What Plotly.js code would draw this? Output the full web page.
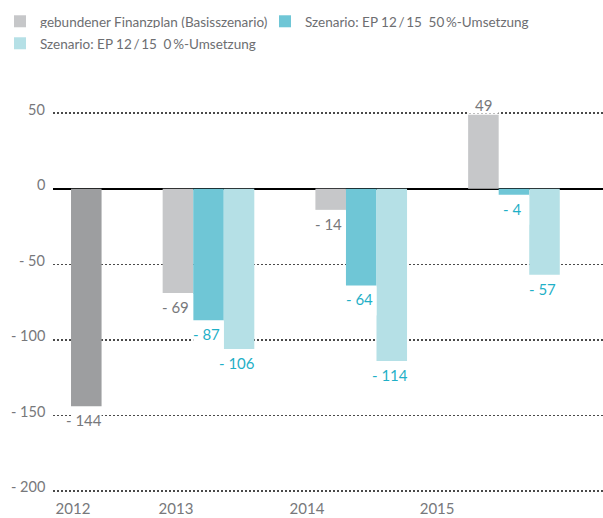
<!DOCTYPE html>
<html>
<head>
<meta charset="utf-8">
<script src="https://cdn.plot.ly/plotly-3.0.1.min.js"></script>
<style>html,body{margin:0;padding:0;background:#fff;}#chart{width:603px;height:518px;}</style>
</head>
<body>
<div id="chart"></div>
<script>
// ---- data ----
const years = [2013, 2014, 2015];
const basis = [-69, -14, 49];          // gebundener Finanzplan (Basisszenario)
const ep50 = [-87, -64, -4];           // Szenario: EP 12/15 50%-Umsetzung
const ep0 = [-106, -114, -57];         // Szenario: EP 12/15 0%-Umsetzung
const years2012 = [2012];
const ist2012 = [-144];
const xTickLabels = ['2012', '2013', '2014', '2015'];
const yTickVals = [-200, -150, -100, -50, 0, 50];

const seriesNames = [
  'gebundener Finanzplan (Basisszenario)',
  'Szenario: EP 12\u2009/\u200915\u200250\u2009%-Umsetzung',
  'Szenario: EP 12\u2009/\u200915\u20020\u2009%-Umsetzung'
];

// ---- styling ----
const FONT = 'Lato, Roboto, sans-serif';
const colGray = '#c6c7c9', colTeal = '#6fc6d6', colLight = '#b5e0e6', colDark = '#9d9ea0';
const txtGray = '#77787b', txtTeal = '#1fb0c7';
const BW = 0.2;
const xTickPos = [2012.113, 2012.787, 2013.645, 2014.497];

function fmt(v) { return v < 0 ? '- ' + Math.abs(v) : String(v); }

const series = [
  {name: seriesNames[0], x: years, y: basis, color: colGray, off: -0.3, txt: txtGray, legend: 'legend'},
  {name: seriesNames[1], x: years, y: ep50, color: colTeal, off: -0.1, txt: txtTeal, legend: 'legend'},
  {name: seriesNames[2], x: years, y: ep0, color: colLight, off: 0.1, txt: txtTeal, legend: 'legend2'},
  {name: '2012', x: years2012, y: ist2012, color: colDark, off: 0.1, txt: txtGray, legend: null}
];

const traces = series.map(s => {
  const t = {
    type: 'bar', name: s.name, x: s.x, y: s.y,
    width: BW, offset: s.off,
    marker: {color: s.color, line: {width: 0}},
    showlegend: !!s.legend, hoverinfo: 'skip'
  };
  if (s.legend) t.legend = s.legend;
  return t;
});

// white label backgrounds (hide the dotted grid behind value labels) + value labels
const shapes = [];
const annotations = [];
series.forEach(s => {
  s.x.forEach((xv, i) => {
    const v = s.y[i];
    const neg = v < 0;
    shapes.push({
      type: 'rect', layer: 'above', xref: 'x', yref: 'y',
      x0: xv + s.off, x1: xv + s.off + BW,
      ysizemode: 'pixel', yanchor: v,
      y0: neg ? -1 : 1, y1: neg ? -30 : 20,
      fillcolor: '#ffffff', line: {width: 0}
    });
    annotations.push({
      x: xv + s.off + BW / 2, y: v, xref: 'x', yref: 'y',
      text: fmt(v), showarrow: false,
      font: {family: FONT, size: 15, color: s.txt},
      borderpad: 0,
      xanchor: 'center', yanchor: neg ? 'top' : 'bottom',
      xshift: neg ? -2 : 0, yshift: neg ? -4 : 0
    });
  });
});

// y-axis labels sit slightly above their grid lines
yTickVals.forEach(v => {
  annotations.push({
    x: 0, xref: 'paper', y: v, yref: 'y',
    text: fmt(v), showarrow: false,
    font: {family: FONT, size: 14.5, color: txtGray},
    xanchor: 'right', yanchor: 'middle', borderpad: 0,
    xshift: -7, yshift: 4
  });
});

const legFont = {family: FONT, size: 13.5, color: '#6d6e71'};

const layout = {
  width: 603, height: 518,
  margin: {l: 53, r: 0, t: 95, b: 24},
  paper_bgcolor: '#ffffff', plot_bgcolor: '#ffffff',
  font: {family: FONT, size: 14, color: txtGray},
  barmode: 'overlay',
  showlegend: true,
  legend: {
    orientation: 'h', xref: 'container', yref: 'container',
    x: -0.009, y: 1 - 6 / 518, xanchor: 'left', yanchor: 'top',
    entrywidth: 220, entrywidthmode: 'pixels',
    font: legFont, traceorder: 'normal', itemclick: false
  },
  legend2: {
    orientation: 'h', xref: 'container', yref: 'container',
    x: -0.009, y: 1 - 28 / 518, xanchor: 'left', yanchor: 'top',
    font: legFont, traceorder: 'normal', itemclick: false
  },
  xaxis: {
    type: 'linear', range: [2011.982, 2015.583],
    tickmode: 'array', tickvals: xTickPos, ticktext: xTickLabels,
    showgrid: false, zeroline: false, showline: false, ticks: '',
    ticklabelstandoff: 4,
    tickfont: {family: FONT, size: 15, color: txtGray},
    fixedrange: true
  },
  yaxis: {
    range: [-202, 62],
    tickmode: 'array', tickvals: yTickVals, showticklabels: false,
    showgrid: true, gridcolor: '#4a4a4a', gridwidth: 1.5, griddash: '1.5px,2.5px',
    zeroline: true, zerolinecolor: '#000000', zerolinewidth: 2,
    showline: false, ticks: '',
    fixedrange: true
  },
  shapes: shapes,
  annotations: annotations
};

Plotly.newPlot('chart', traces, layout, {displayModeBar: false, staticPlot: true});
</script>
</body>
</html>
